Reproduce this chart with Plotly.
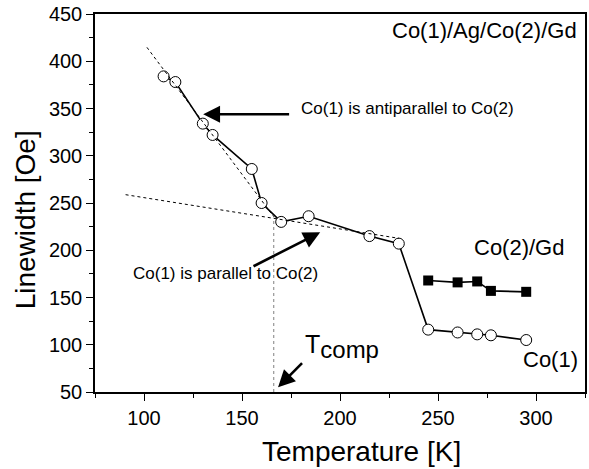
import plotly.graph_objects as go

# Co(1) layer linewidth (open circles)
co1_T = [110, 116, 130, 135, 155, 160, 170, 184, 215, 230, 245, 260, 270, 277, 295]
co1_L = [384, 378, 334, 322, 286, 250, 230, 236, 215, 207, 116, 113, 111, 110, 105]

# Co(2)/Gd layer linewidth (filled squares)
co2_T = [245, 260, 270, 277, 295]
co2_L = [168, 166, 167, 157, 156]

# Guide lines
steep_T = [101.5, 166.2]
steep_L = [414.7, 235.5]
flat_T = [90.6, 230.1]
flat_L = [258.8, 212.6]
tcomp_T = [166.2, 166.2]
tcomp_L = [50, 234.5]

FONT = "Liberation Sans"

fig = go.Figure()

fig.add_trace(go.Scatter(x=co1_T, y=co1_L, mode="lines+markers",
                         line=dict(color="black", width=1.6),
                         marker=dict(symbol="circle", size=11, color="white",
                                     line=dict(color="black", width=1)),
                         showlegend=False, hoverinfo="skip"))
fig.add_trace(go.Scatter(x=co2_T, y=co2_L, mode="lines+markers",
                         line=dict(color="black", width=1.6),
                         marker=dict(symbol="square", size=10, color="black"),
                         showlegend=False, hoverinfo="skip"))
fig.add_trace(go.Scatter(x=steep_T, y=steep_L, mode="lines",
                         line=dict(color="black", width=1, dash="dot"),
                         showlegend=False, hoverinfo="skip"))
fig.add_trace(go.Scatter(x=flat_T, y=flat_L, mode="lines",
                         line=dict(color="black", width=1, dash="dot"),
                         showlegend=False, hoverinfo="skip"))
fig.add_trace(go.Scatter(x=tcomp_T, y=tcomp_L, mode="lines",
                         line=dict(color="#808080", width=1, dash="dot"),
                         showlegend=False, hoverinfo="skip"))

annotations = [
    dict(x=321.8, y=432.3, text="Co(1)/Ag/Co(2)/Gd", xanchor="right", yanchor="middle",
         showarrow=False, font=dict(size=22)),
    dict(x=315.4, y=202.7, text="Co(2)/Gd", xanchor="right", yanchor="middle",
         showarrow=False, font=dict(size=22)),
    dict(x=322.2, y=83.9, text="Co(1)", xanchor="right", yanchor="middle",
         showarrow=False, font=dict(size=22)),
    dict(x=179.3, y=350.5, text="Co(1) is antiparallel to Co(2)", xanchor="left",
         yanchor="middle", showarrow=False, font=dict(size=17)),
    dict(x=93.6, y=175.6, text="Co(1) is parallel to Co(2)", xanchor="left",
         yanchor="middle", showarrow=False, font=dict(size=17)),
    dict(x=181.0, y=98.0, text="T<sub><span style='font-size:24px'>comp</span></sub>",
         xanchor="left", yanchor="middle", showarrow=False, font=dict(size=25)),
]
arrows = [
    ((174.8, 343.9), (130.2, 343.9)),
    ((155.1, 182.3), (189.9, 219.0)),
    ((181.4, 82.1), (168.4, 55.0)),
]
for (tx, ty), (hx, hy) in arrows:
    annotations.append(dict(x=hx, y=hy, ax=tx, ay=ty, xref="x", yref="y",
                            axref="x", ayref="y", text="", showarrow=True,
                            arrowhead=2, arrowsize=1.3, arrowwidth=2.6,
                            arrowcolor="black", standoff=0, startstandoff=0))
annotations += [
    dict(x=(363 - 95) / 492, y=(392 - 452) / 378, xref="paper", yref="paper",
         text="Temperature [K]", showarrow=False, xanchor="center", yanchor="middle",
         font=dict(size=28)),
    dict(x=(25 - 95) / 492, y=(392 - 220) / 378, xref="paper", yref="paper",
         text="Linewidth [Oe]", showarrow=False, xanchor="center", yanchor="middle",
         textangle=-90, font=dict(size=28)),
]

axis_common = dict(showgrid=False, zeroline=False, showline=True, linecolor="black",
                   linewidth=1.5, tickcolor="black", tickwidth=1.3, mirror=True)
minor_out = dict(dtick=25, ticks="outside", ticklen=4, tickcolor="black", tickwidth=1.3)

fig.update_layout(
    width=589, height=469,
    margin=dict(l=95, r=2, t=14, b=77),
    paper_bgcolor="white", plot_bgcolor="white",
    font=dict(family=FONT, color="black", size=20),
    annotations=annotations,
    xaxis=dict(range=[75, 325], tick0=0, dtick=50, ticks="outside", ticklen=7,
               minor=minor_out, tickfont=dict(size=20), **axis_common),
    yaxis=dict(range=[50, 450], tick0=0, dtick=50, ticks="outside", ticklen=7,
               minor=minor_out, tickfont=dict(size=20), **axis_common),
)

fig.write_html("out.html", config={"displayModeBar": False},
               post_script="document.body.style.margin='0px';")
